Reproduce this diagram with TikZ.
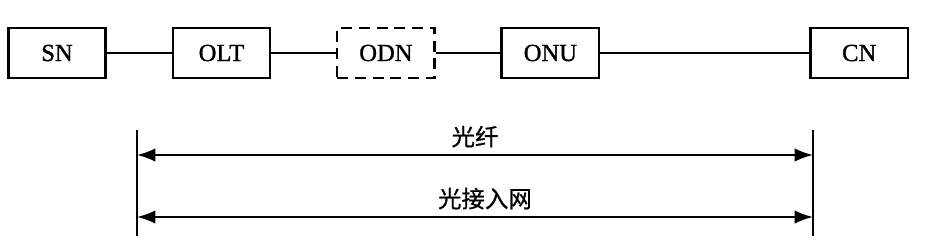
\documentclass[tikz,border=0pt]{standalone}
\usepackage{fontspec}
\setmainfont{Liberation Serif}[FakeBold=1.2]
\newfontfamily\cjk{Noto Sans CJK SC}[FakeBold=0.8]
\usetikzlibrary{positioning, calc, arrows.meta}

\begin{document}
\begin{tikzpicture}[
            node distance=1.94cm,
            netbox/.style={draw, line width=2.1pt, align=center, font=\fontsize{21}{25}\selectfont, minimum height=1.5cm, minimum width=2.92cm, inner sep=0pt},
            link/.style={line width=1.6pt},
            span/.style={<->, >={Latex[length=0.55cm, width=0.4cm]}, line width=1.6pt},
            spanlabel/.style={above=0.2cm, font=\cjk\fontsize{20}{24}\selectfont, inner sep=0pt}
        ]
            \useasboundingbox (0,0) rectangle (27.78,-7.38);
            \node[netbox] (SN) at (1.71,-1.59) {SN};
            \node[netbox, right=of SN] (OLT) {OLT};
            \node[netbox, right=of OLT, dash pattern=on 0.33cm off 0.2cm] (ODN) {ODN};
            \node[netbox, right=of ODN] (ONU) {ONU};
            \node[netbox, right=6.27cm of ONU] (CN) {CN};
            
            \draw [link] (SN) -- (OLT);
            \draw [link] (OLT) -- (ODN);
            \draw [link] (ODN) -- (ONU);
            \draw [link] (ONU) -- (CN);
            
            % span markers below the chain
            \coordinate (ltop) at (4.11,-3.9);
            \coordinate (lbot) at (4.11,-7.08);
            \coordinate (rtop) at (24.39,-3.9);
            \coordinate (rbot) at (24.39,-7.08);
            \draw [line width=1.6pt] (ltop) -- (lbot);
            \draw [line width=1.6pt] (rtop) -- (rbot);
            
            \coordinate (fiberl) at (4.11,-4.65);
            \coordinate (fiberr) at (24.39,-4.65);
            \coordinate (oanl) at (4.11,-6.51);
            \coordinate (oanr) at (24.39,-6.51);
            \draw [span] (fiberl) -- node[spanlabel] {光纤} (fiberr);
            \draw [span] (oanl) -- node[spanlabel, xshift=0.3cm] {光接入网} (oanr);
        \end{tikzpicture}
\end{document}
